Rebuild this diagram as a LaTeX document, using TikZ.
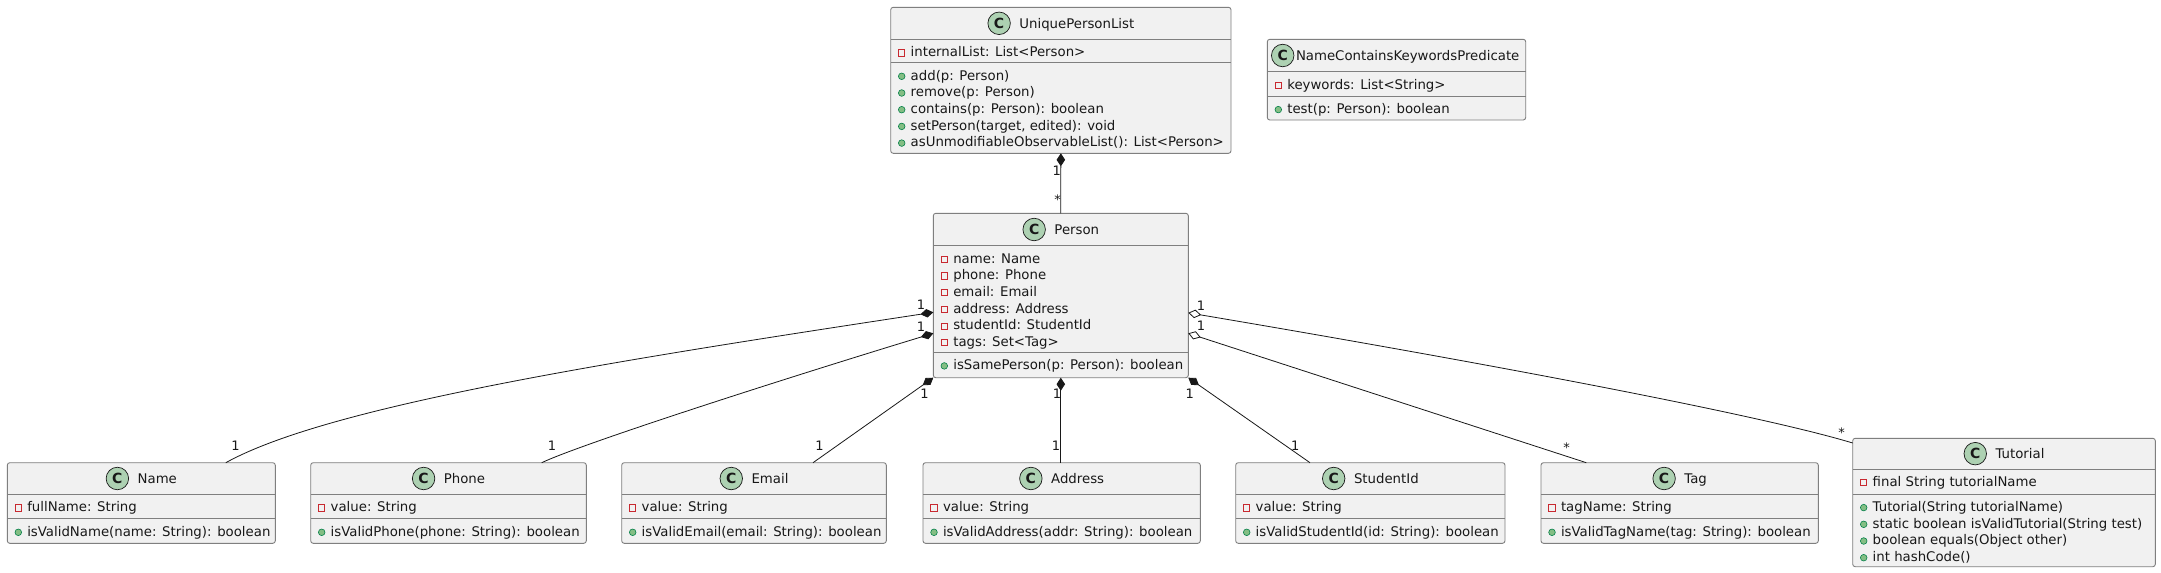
\documentclass[tikz,border=0pt]{standalone}
\usepackage{fontspec}
\setmainfont{DejaVu Sans}
\usetikzlibrary{arrows.meta,calc}
\definecolor{boxfill}{HTML}{F1F1F1}
\definecolor{boxline}{HTML}{7F7F7F}
\definecolor{ink}{HTML}{181818}
\definecolor{circfill}{HTML}{ADD1B2}
\definecolor{privred}{HTML}{C82930}
\definecolor{pubfill}{HTML}{84BE84}
\definecolor{publine}{HTML}{038048}
\newcommand{\memfont}{\fontsize{13.3}{16}\selectfont}
\newcommand{\labfont}{\fontsize{13}{15}\selectfont}
\tikzset{
  classbox/.style={rectangle, draw=boxline, fill=boxfill, line width=0.9pt, rounded corners=2.5pt, inner sep=0pt, outer sep=0pt},
  sepline/.style={draw=boxline, line width=0.9pt},
  member/.style={inner sep=0pt, outer sep=0pt, font=\memfont, text=ink},
  headname/.style={inner sep=0pt, outer sep=0pt, font=\memfont, text=ink},
  cicon/.style={circle, draw=ink, line width=0.7pt, fill=circfill, minimum size=22.5pt, inner sep=0pt, font=\fontsize{14}{14}\selectfont\bfseries, text=ink},
  privicon/.style={draw=privred, line width=0.9pt},
  pubicon/.style={draw=publine, fill=pubfill, line width=0.6pt},
  assoc/.style={draw=ink, line width=0.8pt},
  comp/.style={assoc, {Diamond[length=13pt,width=8.5pt,fill=ink]}-},
  aggr/.style={assoc, {Diamond[open,length=13pt,width=8.5pt,fill=white]}-},
  mult/.style={inner sep=0pt, outer sep=0pt, font=\labfont, text=ink, anchor=base},
}
% box: id, L, T, R, HS, AS, B
\newcommand{\classbox}[7]{%
  \pgfmathsetmacro{\cbw}{#4-#2}%
  \pgfmathsetmacro{\cbh}{#7-#3}%
  \node[classbox, minimum width=\cbw pt, minimum height=\cbh pt, anchor=north west] (#1) at (#2,#3) {};
  \draw[sepline] (#2,#5) -- (#4,#5);
  \draw[sepline] (#2,#6) -- (#4,#6);
}
% header centred: id, name, L, T, R, HS
\newcommand{\classhead}[6]{%
  \pgfmathsetmacro{\hx}{(#3+#5)/2+16}%
  \pgfmathsetmacro{\hy}{(#4+#6)/2+4.8}%
  \node[headname, anchor=base] (#1-name) at (\hx,\hy) {#2};
  \node[cicon] (#1-c) at ($(#1-name.base west)+(-20.3,-4.8)$) {C};
}
\newcommand{\drawprivicon}[2]{\draw[privicon] ({#1-3.1},{#2-3.1}) rectangle ({#1+3.1},{#2+3.1});}
\newcommand{\drawpubicon}[2]{\draw[pubicon] (#1,#2) circle[radius=3.3pt];}
% members: id, L, section top, kind (priv|pub), list
\newcommand{\members}[5]{%
  \foreach \mt [count=\mk from 0] in {#5} {%
    \pgfmathsetmacro{\myc}{#3+12.6+16.7*\mk}%
    \pgfmathsetmacro{\myb}{\myc+4.8}%
    \pgfmathsetmacro{\mxi}{#2+11}%
    \pgfmathsetmacro{\mxt}{#2+20}%
    \node[member, anchor=base west] (#1-#4\mk) at (\mxt,\myb) {\mt};
    \csname draw#4icon\endcsname{\mxi}{\myc+1}%
  }%
}
\begin{document}
\begin{tikzpicture}[x=1pt,y=-1pt]
\fill[white] (0,0) rectangle (2161,573);
\useasboundingbox (0,0) rectangle (2161,573);

% UniquePersonList
\classbox{upl}{890.7}{7.3}{1231}{39.3}{62.7}{153.3}
\classhead{upl}{UniquePersonList}{890.7}{7.3}{1231}{39.3}
\members{upl}{890.7}{39.3}{priv}{internalList: List<Person>}
\members{upl}{890.7}{62.7}{pub}{add(p: Person), remove(p: Person), contains(p: Person): boolean, {setPerson(target, edited): void}, asUnmodifiableObservableList(): List<Person>}

% NameContainsKeywordsPredicate
\classbox{nckp}{1267.3}{39.3}{1525.7}{71.7}{96}{120}
\node[headname, anchor=base west] (nckp-name) at (1296,60.3) {NameContainsKeywordsPredicate};
\node[cicon] (nckp-c) at ($(nckp-name.base west)+(-13.3,-4.8)$) {C};
\members{nckp}{1267.3}{71.7}{priv}{keywords: List<String>}
\members{nckp}{1267.3}{96}{pub}{test(p: Person): boolean}

% Person
\classbox{person}{933.3}{213.3}{1188.3}{245.7}{352.3}{377.7}
\classhead{person}{Person}{933.3}{213.3}{1188.3}{245.7}
\members{person}{933.3}{245.7}{priv}{name: Name, phone: Phone, email: Email, address: Address, studentId: StudentId, tags: Set<Tag>}
\members{person}{933.3}{352.3}{pub}{isSamePerson(p: Person): boolean}

% Name
\classbox{name}{7.3}{462.7}{275.3}{494.3}{518.7}{543.3}
\classhead{name}{Name}{7.3}{462.7}{275.3}{494.3}
\members{name}{7.3}{494.3}{priv}{fullName: String}
\members{name}{7.3}{518.7}{pub}{isValidName(name: String): boolean}

% Phone
\classbox{phone}{310.7}{462.7}{586.3}{494.3}{518.7}{543.3}
\classhead{phone}{Phone}{310.7}{462.7}{586.3}{494.3}
\members{phone}{310.7}{494.3}{priv}{value: String}
\members{phone}{310.7}{518.7}{pub}{isValidPhone(phone: String): boolean}

% Email
\classbox{email}{621.7}{462.7}{886.3}{494.3}{518.7}{543.3}
\classhead{email}{Email}{621.7}{462.7}{886.3}{494.3}
\members{email}{621.7}{494.3}{priv}{value: String}
\members{email}{621.7}{518.7}{pub}{isValidEmail(email: String): boolean}

% Address
\classbox{address}{923}{462.7}{1200.3}{494.3}{518.7}{543.3}
\classhead{address}{Address}{923}{462.7}{1200.3}{494.3}
\members{address}{923}{494.3}{priv}{value: String}
\members{address}{923}{518.7}{pub}{isValidAddress(addr: String): boolean}

% StudentId
\classbox{studentid}{1235.7}{462.7}{1505}{494.3}{518.7}{543.3}
\classhead{studentid}{StudentId}{1235.7}{462.7}{1505}{494.3}
\members{studentid}{1235.7}{494.3}{priv}{value: String}
\members{studentid}{1235.7}{518.7}{pub}{isValidStudentId(id: String): boolean}

% Tag
\classbox{tag}{1541}{462.7}{1818.3}{494.3}{518.7}{543.3}
\classhead{tag}{Tag}{1541}{462.7}{1818.3}{494.3}
\members{tag}{1541}{494.3}{priv}{tagName: String}
\members{tag}{1541}{518.7}{pub}{isValidTagName(tag: String): boolean}

% Tutorial
\classbox{tutorial}{1852.7}{438.3}{2155.3}{469}{494}{566.7}
\classhead{tutorial}{Tutorial}{1852.7}{438.3}{2155.3}{469}
\members{tutorial}{1852.7}{469}{priv}{final String tutorialName}
\members{tutorial}{1852.7}{494}{pub}{Tutorial(String tutorialName), static boolean isValidTutorial(String test), boolean equals(Object other), int hashCode()}

% connectors
\draw[comp] (upl.south) -- (person.north);
\draw[comp] ($(person.north west)+(0,99)$) .. controls (620,360) and (330,405) .. ($(name.north west)+(218.5,0)$);
\draw[comp] ($(person.north west)+(0,120)$) .. controls (783,379) and (581,444) .. ($(phone.north west)+(231,0)$);
\draw[comp] (person.south west) -- ($(email.north west)+(191.3,0)$);
\draw[comp] (person.south) -- (person.south |- address.north);
\draw[comp] (person.south east) -- ($(studentid.north west)+(74.3,0)$);
\draw[aggr] ($(person.north east)+(0,120)$) -- ($(tag.north west)+(45.3,0)$);
\draw[aggr] ($(person.north east)+(0,99.5)$) .. controls (1450,357) and (1750,412) .. ($(tutorial.north west)+(0,4.7)$);

% multiplicities
\node[mult] (m1) at (1056.7,175) {1};
\node[mult] (m2) at (1057.5,204) {*};
\node[mult] (m3) at (921,309) {1};
\node[mult] (m4) at (921,331) {1};
\node[mult] (m5) at (1201,310) {1};
\node[mult] (m6) at (1201,330) {1};
\node[mult] (m7) at (924.5,398) {1};
\node[mult] (m8) at (1057,398) {1};
\node[mult] (m9) at (1189.7,398) {1};
\node[mult] (m10) at (235.5,450.7) {1};
\node[mult] (m11) at (552,450.7) {1};
\node[mult] (m12) at (819.5,450.7) {1};
\node[mult] (m13) at (1056,450.7) {1};
\node[mult] (m14) at (1295.3,450.7) {1};
\node[mult] (m15) at (1566.7,452.5) {*};
\node[mult] (m16) at (1841.7,437.7) {*};
\end{tikzpicture}
\end{document}
